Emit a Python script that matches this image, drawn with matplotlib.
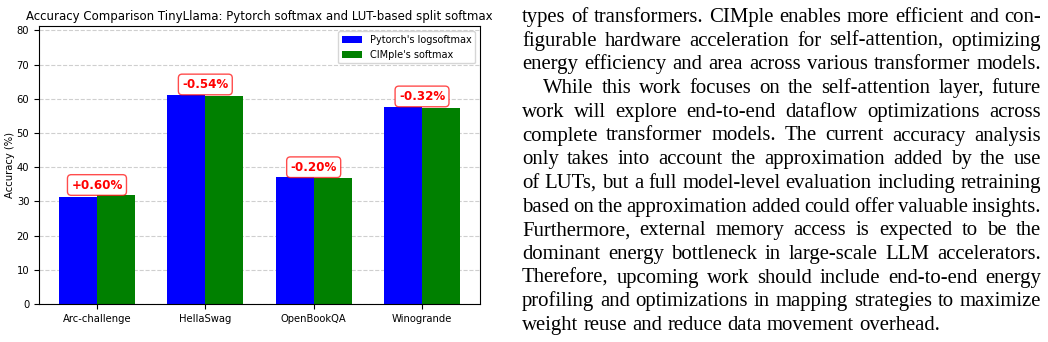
import matplotlib.pyplot as plt
import numpy as np

categories = ['Arc-challenge', 'HellaSwag', 'OpenBookQA', 'Winogrande']
pytorch_acc = [31.2, 61.2, 37.0, 57.7]
cimple_acc = [31.8, 60.7, 36.8, 57.4]
diff_labels = ['+0.60%', '-0.54%', '-0.20%', '-0.32%']

body_lines = [
    "types of transformers. CIMple enables more efficient and con-",
    "figurable hardware acceleration for self-attention, optimizing",
    "energy efficiency and area across various transformer models.",
    "While this work focuses on the self-attention layer, future",
    "work will explore end-to-end dataflow optimizations across",
    "complete transformer models. The current accuracy analysis",
    "only takes into account the approximation added by the use",
    "of LUTs, but a full model-level evaluation including retraining",
    "based on the approximation added could offer valuable insights.",
    "Furthermore, external memory access is expected to be the",
    "dominant energy bottleneck in large-scale LLM accelerators.",
    "Therefore, upcoming work should include end-to-end energy",
    "profiling and optimizations in mapping strategies to maximize",
    "weight reuse and reduce data movement overhead.",
]
indented = [3]

W, H = 1048, 342
fig = plt.figure(figsize=(W / 100, H / 100), dpi=100)

# chart
ax = fig.add_axes([39 / W, 38 / H, 441 / W, 278 / H])
x = np.arange(len(categories))
w = 0.35
ax.bar(x - w / 2, pytorch_acc, w, color='blue', label="Pytorch's logsoftmax")
ax.bar(x + w / 2, cimple_acc, w, color='green', label="CIMple's softmax")
for i in range(len(categories)):
    top = max(pytorch_acc[i], cimple_acc[i])
    ax.text(x[i], top + 1.1, diff_labels[i], ha='center', va='bottom',
            color='red', fontsize=8.6, fontweight='bold',
            bbox=dict(boxstyle='round,pad=0.32', fc='white', ec=(1, 0, 0, 0.7)))
ax.set_xticks(x)
ax.set_xticklabels(categories, fontsize=7.2)
ax.set_ylim(0, 81.3)
ax.set_yticks(np.arange(0, 81, 10))
ax.tick_params(axis='y', labelsize=7.2)
ax.set_ylabel('Accuracy (%)', fontsize=7.2, labelpad=1.5)
ax.set_title('Accuracy Comparison TinyLlama: Pytorch softmax and LUT-based split softmax',
             fontsize=8.5, pad=4)
ax.yaxis.grid(True, linestyle='--', alpha=0.6)
ax.set_axisbelow(True)
ax.legend(loc='upper right', fontsize=7)

# paper text, justified
renderer = fig.canvas.get_renderer()
serif = 'Liberation Serif'


def text_width(s, size):
    t = fig.text(0, 0, s, fontsize=size, family=serif)
    wd = t.get_window_extent(renderer).width
    t.remove()
    return wd


left, right = 522, 1041
body_size = 14 * 422 / text_width(body_lines[-1], 14)
space = text_width('a a', body_size) - text_width('aa', body_size)
y0, lead = 22, 23.7
for i, line in enumerate(body_lines):
    words = line.split()
    start = left + (21 if i in indented else 0)
    widths = [text_width(wd, body_size) for wd in words]
    if i == len(body_lines) - 1:
        gap = space
    else:
        gap = max((right - start - sum(widths)) / (len(words) - 1), 2)
    xp = start
    yp = 1 - (y0 + i * lead) / H
    for wd, ww in zip(words, widths):
        fig.text(xp / W, yp, wd, fontsize=body_size, family=serif,
                 ha='left', va='baseline')
        xp += ww + gap

fig.savefig('out.png', dpi=100)
